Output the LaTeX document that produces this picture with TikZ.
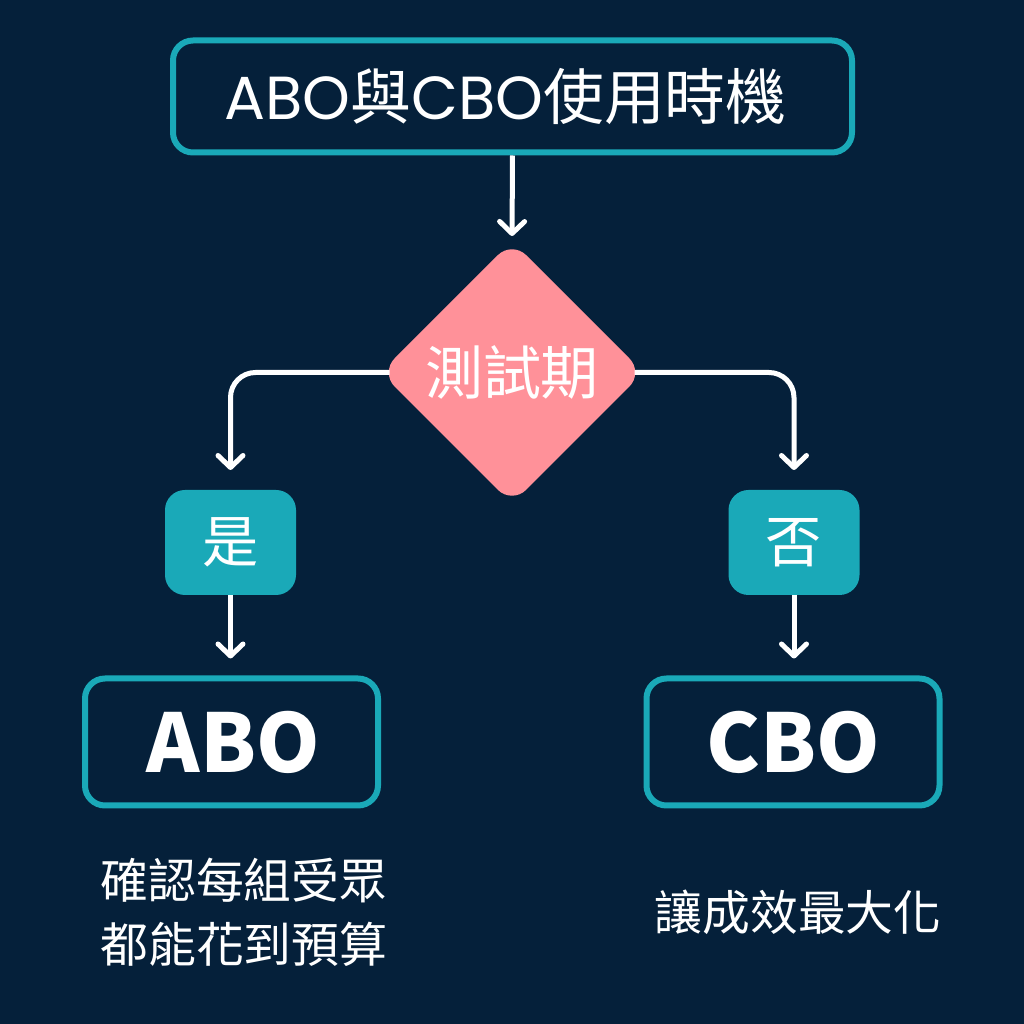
\documentclass[tikz,border=0pt]{standalone}
\usepackage{fontspec}
\newfontfamily\cjkfont{Noto Sans CJK TC}
\newfontfamily\latinfont{Poppins}
\usetikzlibrary{arrows.meta}
\usetikzlibrary{shapes.geometric}
\definecolor{bgnavy}{HTML}{05203A}
\definecolor{tealedge}{HTML}{1AA9B8}
\definecolor{pinkfill}{HTML}{FF9199}
\tikzset{
    framebox/.style={draw=tealedge, line width=0.06cm, rounded corners=0.2cm, fill=bgnavy, text=white, inner sep=0pt},
    answerbox/.style={fill=tealedge, rounded corners=0.2cm, text=white, inner sep=0pt, outer sep=0pt, minimum width=1.31cm, minimum height=1.05cm, font=\cjkfont\fontsize{16pt}{18pt}\selectfont},
    flowarrow/.style={draw=white, line width=0.05cm, rounded corners=0.25cm, -{Straight Barb[length=0.12cm,width=0.25cm,round]}},
    notetext/.style={text=white, align=center, font=\cjkfont\fontsize{13.6pt}{18.2pt}\selectfont}
}

\begin{document}
\begin{tikzpicture}
    \fill[bgnavy] (0,0) rectangle (10.24,10.24);
    \useasboundingbox (0,0) rectangle (10.24,10.24);
    \node[framebox, minimum width=6.79cm, minimum height=1.12cm] (title) at (5.125,9.275)
        {\fontsize{17.3pt}{20pt}\selectfont\latinfont ABO\cjkfont 與\latinfont CBO\cjkfont 使用時機\kern0.14cm};
    \node[diamond, fill=pinkfill, rounded corners=0.2cm, inner sep=0pt, outer sep=0pt, minimum width=2.63cm, minimum height=2.63cm, text=white,
        font=\cjkfont\fontsize{16.5pt}{20pt}\selectfont] (test) at (5.12,6.515) {測試期};
    \node[answerbox] (yes) at (2.305,4.815) {是};
    \node[answerbox] (no) at (7.94,4.815) {否};
    \node[framebox, minimum width=2.93cm, minimum height=1.27cm, font=\cjkfont\fontsize{23pt}{28pt}\selectfont\bfseries] (abo) at (2.315,2.82) {\kern0.04cm ABO};
    \node[framebox, minimum width=2.93cm, minimum height=1.27cm, font=\cjkfont\fontsize{23pt}{28pt}\selectfont\bfseries] (cbo) at (7.93,2.82) {CBO};
    \node[notetext] (abonote) at (2.44,1.12) {確認每組受眾\\都能花到預算};
    \node[notetext] (cbonote) at (7.98,1.12) {讓成效最大化};
    \draw[flowarrow, shorten >=0.05cm] (title.south) -- (test.north);
    \draw[flowarrow, shorten <=-0.09cm, shorten >=0.2cm] (test.west) -| (yes.north);
    \draw[flowarrow, shorten <=-0.09cm, shorten >=0.2cm] (test.east) -| (no.north);
    \draw[flowarrow, shorten >=0.17cm] (yes.south) -- (yes.south |- abo.north);
    \draw[flowarrow, shorten >=0.17cm] (no.south) -- (no.south |- cbo.north);
\end{tikzpicture}
\end{document}
